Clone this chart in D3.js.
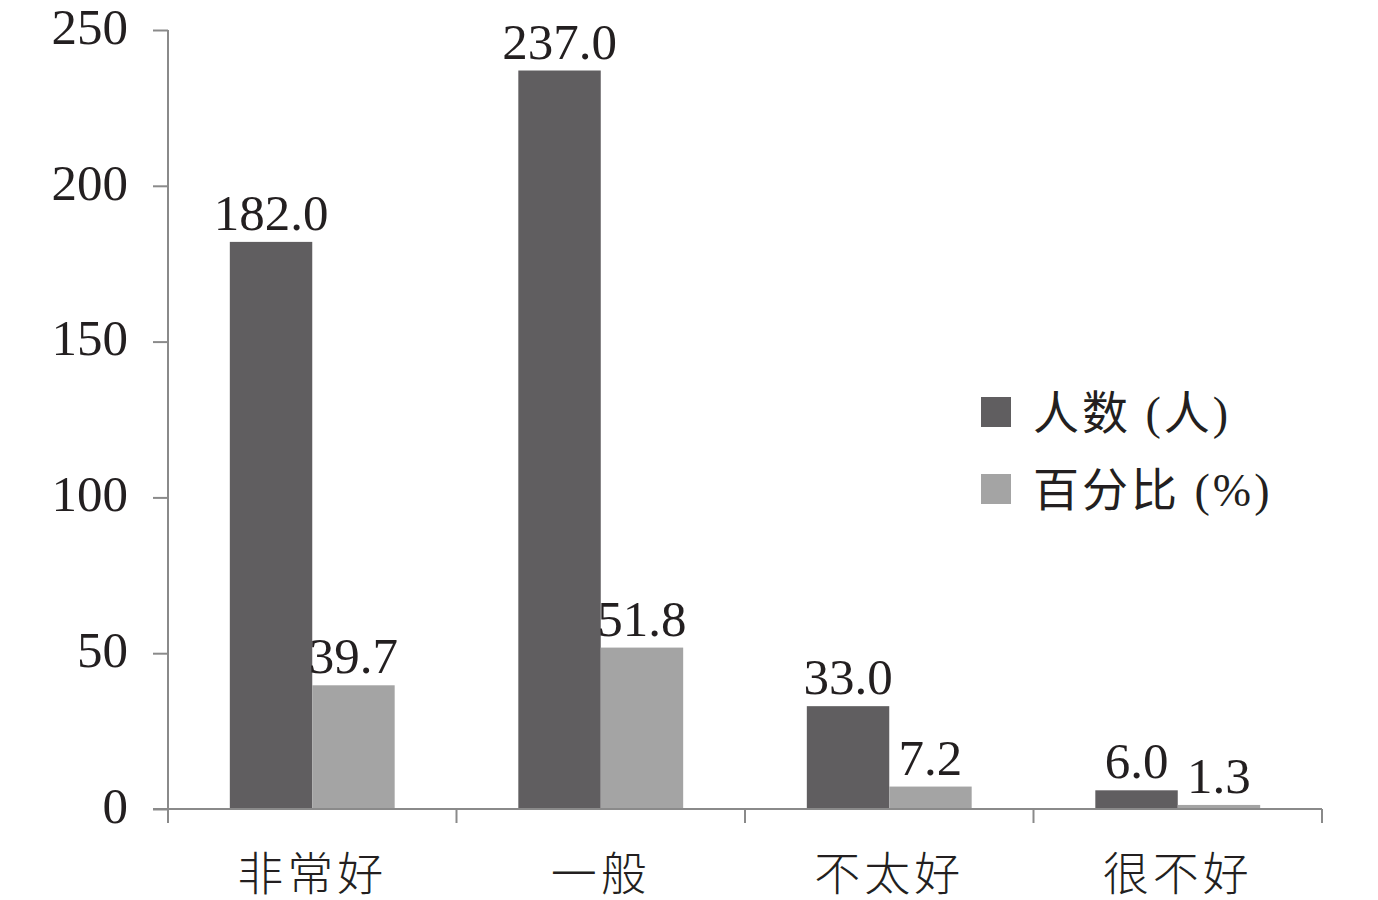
<!DOCTYPE html>
<html>
<head>
<meta charset="utf-8">
<script src="https://cdn.jsdelivr.net/npm/d3@7/dist/d3.min.js"></script>
<style>
  html, body { margin: 0; padding: 0; background: #fff; }
  svg { display: block; }
  text { fill: #231f20; font-family: "Liberation Serif", "Noto Sans CJK SC", serif; }
</style>
</head>
<body>
<svg id="chart" width="1378" height="900"></svg>
<script>
const categories = ["非常好", "一般", "不太好", "很不好"];
const seriesNames = ["人数 (人)", "百分比 (%)"];
const countValues = [182.0, 237.0, 33.0, 6.0];
const percentValues = [39.7, 51.8, 7.2, 1.3];
const yTicks = [0, 50, 100, 150, 200, 250];
const colors = ["#605e60", "#a4a4a4"];

const svg = d3.select("#chart");
const margin = { left: 168, right: 56, top: 30, bottom: 91 };
const W = 1378, H = 900;
const x0 = margin.left, x1 = W - margin.right;
const yBase = H - margin.bottom;

const x = d3.scaleBand().domain(categories).range([x0, x1]).paddingInner(0).paddingOuter(0);
const xs = d3.scaleBand().domain(seriesNames).range([0, x.bandwidth()]).paddingOuter(0.75).paddingInner(0);
const y = d3.scaleLinear().domain([0, 250]).range([yBase, margin.top]);

const axisColor = "#8a8a8a";

// y axis
const yAxis = svg.append("g").attr("transform", `translate(${x0},0)`)
  .call(d3.axisLeft(y).tickValues(yTicks).tickSize(15).tickPadding(25).tickFormat(d3.format("d")));
yAxis.select(".domain").attr("stroke", axisColor).attr("stroke-width", 2).attr("d", `M0,${y(250)}V${yBase}`);
yAxis.selectAll(".tick line").attr("stroke", axisColor).attr("stroke-width", 2);
yAxis.selectAll(".tick text").attr("font-size", 51).attr("font-family", "Liberation Serif").attr("fill", "#231f20").attr("dy", "0.26em");

// bars
const rows = categories.map((c, i) => ({ cat: c, vals: [countValues[i], percentValues[i]] }));
const groups = svg.append("g").selectAll("g").data(rows).join("g")
  .attr("transform", d => `translate(${x(d.cat)},0)`);
groups.selectAll("rect").data(d => d.vals.map((v, j) => ({ v, s: seriesNames[j], j })))
  .join("rect")
  .attr("x", d => xs(d.s))
  .attr("y", d => y(d.v))
  .attr("width", xs.bandwidth())
  .attr("height", d => yBase - y(d.v))
  .attr("fill", d => colors[d.j]);
groups.selectAll("text").data(d => d.vals.map((v, j) => ({ v, s: seriesNames[j], j })))
  .join("text")
  .attr("x", d => xs(d.s) + xs.bandwidth() / 2)
  .attr("y", d => y(d.v) - 12)
  .attr("text-anchor", "middle")
  .attr("font-size", 51)
  .text(d => d3.format(".1f")(d.v));

// x axis
const xAxis = svg.append("g").attr("transform", `translate(0,${yBase})`);
xAxis.append("line").attr("x1", x0 - 15).attr("x2", x1).attr("y1", 0).attr("y2", 0)
  .attr("stroke", axisColor).attr("stroke-width", 2);
const bounds = categories.map(c => x(c)).concat([x1]);
xAxis.selectAll("line.tk").data(bounds).join("line").attr("class", "tk")
  .attr("x1", d => d).attr("x2", d => d).attr("y1", 0).attr("y2", 14)
  .attr("stroke", axisColor).attr("stroke-width", 2);
xAxis.selectAll("text").data(categories).join("text")
  .attr("x", d => x(d) + x.bandwidth() / 2)
  .attr("y", 81)
  .attr("text-anchor", "middle")
  .attr("font-size", 46)
  .attr("letter-spacing", 4)
  .attr("font-family", "Noto Sans CJK SC")
  .attr("font-weight", 300)
  .text(d => d);

// legend
const legend = svg.append("g").attr("transform", "translate(981,397)");
const li = legend.selectAll("g").data(seriesNames).join("g")
  .attr("transform", (d, i) => `translate(0,${i * 77})`);
li.append("rect").attr("width", 30).attr("height", 30).attr("fill", (d, i) => colors[i]);
li.append("text").attr("x", 52).attr("y", 15).attr("dy", "0.36em")
  .attr("font-size", 46).attr("letter-spacing", 3).text(d => d);
</script>
</body>
</html>
